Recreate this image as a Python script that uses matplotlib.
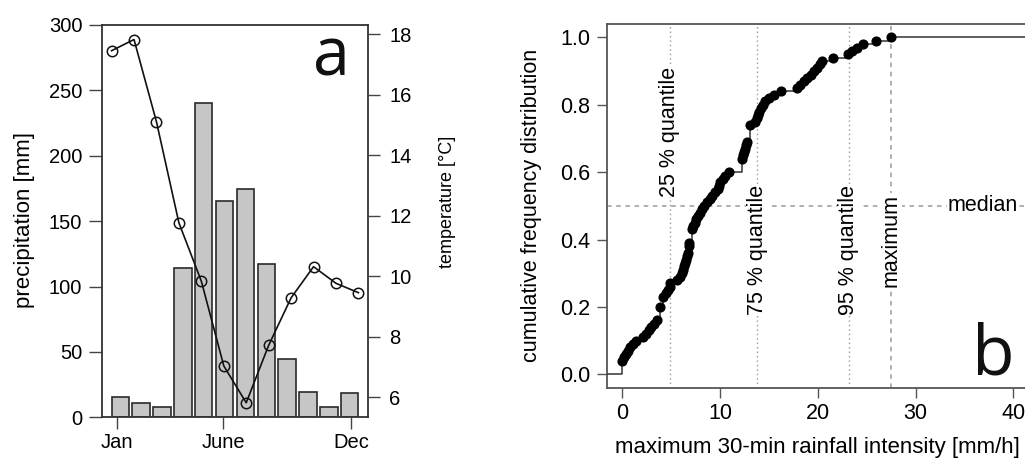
import numpy as np
import matplotlib
matplotlib.use("Agg")
import matplotlib.pyplot as plt

plt.rcParams['font.family'] = ['Liberation Sans', 'DejaVu Sans']

# ---------------- data: panel a ----------------
months = list(range(1, 13))
precip_mm = [15.8, 10.7, 8.1, 114.5, 240.2, 165.5, 174.4, 117.3, 44.4, 19.1, 8.1, 18.4]
temp_c = [17.46, 17.83, 15.11, 11.77, 9.84, 7.04, 5.82, 7.72, 9.29, 10.32, 9.77, 9.46]
month_tick_labels = ['Jan', 'June', 'Dec']
month_tick_pos = [0.5, 6.63, 14.0]          # in bar-axis units
precip_ticks = [0, 50, 100, 150, 200, 250, 300]
temp_ticks = [6, 8, 10, 12, 14, 16, 18]

# ---------------- data: panel b ----------------
intensity = [
    0, 0, 0, 0,
    0.2, 0.4, 0.6, 0.8, 1.1, 1.4,
    2.1, 2.4, 2.7, 2.9, 3.2, 3.5,
    3.9, 3.9, 3.9, 3.9,
    4.2, 4.2, 4.2, 4.5, 4.7, 4.85, 4.9,
    5.6, 5.9, 6.1, 6.2, 6.3, 6.4, 6.5, 6.6, 6.7, 6.8, 6.8, 6.85,
    7.1, 7.1, 7.1, 7.1,
    7.2, 7.4, 7.5, 7.7, 7.9, 8.2, 8.4, 8.7, 9.0, 9.2, 9.5, 9.8, 9.9, 10.0, 10.3, 10.5, 10.9,
    12.2, 12.2, 12.2, 12.2, 12.3, 12.4, 12.5, 12.6, 12.8,
    13.1, 13.1, 13.1, 13.1, 13.1,
    13.6, 13.8, 13.9, 14.0, 14.2, 14.4, 14.6, 15.0, 15.5, 16.2,
    17.9, 18.2, 18.6, 18.9, 19.3, 19.6, 19.9, 20.2, 20.4,
    21.5, 23.1, 23.5, 24.0, 24.6, 25.9, 27.5,
]
quantile_names = ['25 % quantile', '75 % quantile', '95 % quantile']
quantile_vals = [4.83, 13.82, 23.15]
quantile_label_y = [0.72, 0.368, 0.37]
max_val = 27.5
max_label_y = 0.397
median_level = 0.5
x_ticks_b = [0, 10, 20, 30, 40]
y_ticks_b = [0.0, 0.2, 0.4, 0.6, 0.8, 1.0]

W, H = 1025, 462
fig = plt.figure(figsize=(W / 100, H / 100), dpi=100)
fig.patch.set_facecolor('white')

def rect(x0, y0, x1, y1):
    return [x0 / W, 1 - y1 / H, (x1 - x0) / W, (y1 - y0) / H]

spine_col = '#333333'

# ================= panel a =================
ax1 = fig.add_axes(rect(101.7, 25, 368.3, 417.3))
bar_x = [0.7 + 1.2 * (m - 1) for m in months]
ax1.bar(bar_x, precip_mm, width=1.0, color='#c6c6c6', edgecolor='#2a2a2a', linewidth=1.2, zorder=2)
ax1.set_xlim(-0.368, 14.968)
ax1.set_ylim(0, 300)
ax1.set_yticks(precip_ticks)
ax1.set_xticks(month_tick_pos)
ax1.set_xticklabels(month_tick_labels)
ax1.tick_params(axis='y', direction='out', length=9.5, width=1.0, pad=4.5, labelsize=14.5, color='#444444')
ax1.tick_params(axis='x', direction='out', length=8.6, width=1.0, pad=3, labelsize=14.5, color='#444444')
for s in ax1.spines.values():
    s.set_color(spine_col)
    s.set_linewidth(1.3)

ax2 = fig.add_axes(rect(101.7, 25, 368.3, 417.3), frameon=False)
ax2.plot(months, temp_c, color='#111111', linewidth=1.2, marker='o', markersize=7.5,
         markerfacecolor='none', markeredgecolor='#111111', markeredgewidth=1.1, zorder=3)
ax2.set_xlim(0.56, 12.44)
ax2.set_ylim(5.34, 18.31)
ax2.set_xticks([])
ax2.yaxis.tick_right()
ax2.set_yticks(temp_ticks)
ax2.tick_params(axis='y', direction='out', length=8.6, width=1.0, pad=6.5, labelsize=14.5, color='#444444')
ax2.patch.set_alpha(0)

ax1.text(0.93, 0.872, 'a', transform=ax1.transAxes, ha='right', va='baseline',
         fontsize=48, family=['Open Sans', 'DejaVu Sans'], color='#111111')

fig.text(25 / W, 1 - 220.5 / H, 'precipitation [mm]', rotation=90, ha='center', va='center', fontsize=16)
fig.text(448 / W, 1 - 201.5 / H, 'temperature [°C]', rotation=90, ha='center', va='center', fontsize=13)

# ================= panel b =================
ax3 = fig.add_axes(rect(606.7, 24, 1029, 387.7))
xl = (-1.6, 41.6)
ax3.set_xlim(*xl)
ax3.set_ylim(-0.04, 1.04)

vals = np.array(intensity, dtype=float)
uniq, counts = np.unique(vals, return_counts=True)
ecdf = np.cumsum(counts) / len(vals)

guide_col = '#9a9a9a'
for q in quantile_vals:
    ax3.axvline(q, color=guide_col, linestyle=(0, (1, 2.2)), linewidth=1.0, zorder=1)
ax3.axvline(max_val, color=guide_col, linestyle=(0, (3, 3)), linewidth=1.1, zorder=1)
ax3.axhline(median_level, color=guide_col, linestyle=(0, (3, 3)), linewidth=1.1, zorder=1)

step_x = np.concatenate([[xl[0]], uniq, [xl[1]]])
step_y = np.concatenate([[0.0], ecdf, [1.0]])
ax3.step(step_x, step_y, where='post', color='#333333', linewidth=1.1, zorder=3)
ax3.plot(uniq, ecdf, 'o', color='#000000', markersize=6.3, zorder=4)

lab_fs = 15.5
for name, q, yy in zip(quantile_names, quantile_vals, quantile_label_y):
    ax3.text(q, yy, name, rotation=90, ha='center', va='center', fontsize=lab_fs,
             bbox=dict(facecolor='white', edgecolor='none', pad=0.5), zorder=2)
ax3.text(max_val, max_label_y, 'maximum', rotation=90, ha='center', va='center', fontsize=lab_fs,
         bbox=dict(facecolor='white', edgecolor='none', pad=0.5), zorder=2)
ax3.text(36.9, median_level, 'median', ha='center', va='center', fontsize=lab_fs,
         bbox=dict(facecolor='white', edgecolor='none', pad=0.5), zorder=2)

ax3.text(40.1, 0.0, 'b', ha='right', va='baseline', fontsize=50,
         family=['Open Sans', 'DejaVu Sans'], color='#111111', zorder=5)

ax3.set_xticks(x_ticks_b)
ax3.set_yticks(y_ticks_b)
ax3.set_yticklabels([f'{v:.1f}' for v in y_ticks_b])
ax3.tick_params(axis='both', direction='out', length=7, width=1.0, labelsize=15.5, color='#555555')
ax3.tick_params(axis='y', pad=5)
ax3.tick_params(axis='x', pad=4)
for s in ax3.spines.values():
    s.set_color('#555555')
    s.set_linewidth(1.3)

fig.text(817.5 / W, 1 - 448 / H, 'maximum 30-min rainfall intensity [mm/h]', ha='center', va='center', fontsize=16)
fig.text(531 / W, 1 - 205 / H, 'cumulative frequency distribution', rotation=90, ha='center', va='center', fontsize=15.5)

fig.savefig('out.png', dpi=100, facecolor='white')
